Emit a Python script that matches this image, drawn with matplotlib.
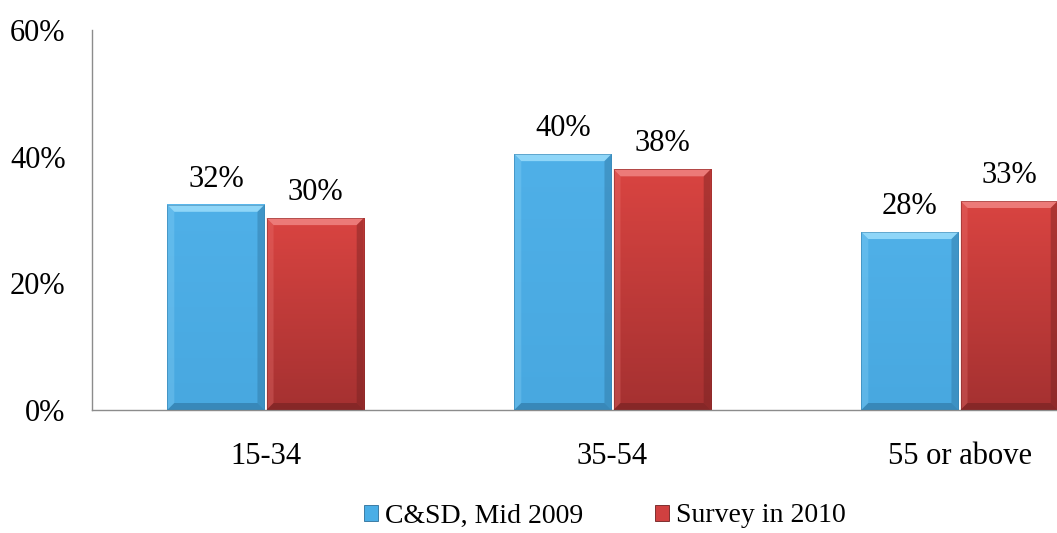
import numpy as np
import matplotlib
matplotlib.use("Agg")
import matplotlib.pyplot as plt
from matplotlib.colors import LinearSegmentedColormap
from matplotlib.patches import Polygon, Patch

# data
groups = ["15-34", "35-54", "55 or above"]
series = ["C&SD, Mid 2009", "Survey in 2010"]
csd_2009 = [0.324, 0.404, 0.281]
survey_2010 = [0.303, 0.380, 0.330]

plt.rcParams['font.family'] = ['Liberation Serif', 'DejaVu Serif']

W, H = 1057, 533
fig = plt.figure(figsize=(W / 100, H / 100), dpi=100)
# the plot area runs past the right edge of the picture, as in the original
ax = fig.add_axes([92 / W, 123 / H, 1041 / W, 380 / H])

x = np.arange(len(groups))
width = 0.28
offset = 0.143

ax.set_xlim(-0.5, 2.5)
ax.set_ylim(0, 0.6)

blue_cm = LinearSegmentedColormap.from_list("b", ["#4fb0e8", "#48a8e0"])
red_cm = LinearSegmentedColormap.from_list("r", ["#d94441", "#a53131"])
grad = np.linspace(0, 1, 100).reshape(-1, 1)

# bevel sizes in data units (about 7 px)
dx = 7 * 3 / 1041
dy = 7 * 0.6 / 380


def bevel_bar(xc, h, cmap, light, dark):
    x0, x1 = xc - width / 2, xc + width / 2
    ax.imshow(grad, extent=[x0, x1, 0, h], origin='upper', aspect='auto',
              cmap=cmap, zorder=2, interpolation='bilinear')
    top = Polygon([(x0, h), (x1, h), (x1 - dx, h - dy), (x0 + dx, h - dy)],
                  closed=True, facecolor=light, edgecolor='none', zorder=3)
    left = Polygon([(x0, 0), (x0, h), (x0 + dx, h - dy), (x0 + dx, dy)],
                   closed=True, facecolor=light, alpha=0.3, edgecolor='none', zorder=3)
    right = Polygon([(x1, 0), (x1, h), (x1 - dx, h - dy), (x1 - dx, dy)],
                    closed=True, facecolor=dark, alpha=0.4, edgecolor='none', zorder=3)
    bottom = Polygon([(x0, 0), (x1, 0), (x1 - dx, dy), (x0 + dx, dy)],
                     closed=True, facecolor=dark, alpha=0.55, edgecolor='none', zorder=3)
    for p in (top, left, right, bottom):
        ax.add_patch(p)
    ax.add_patch(plt.Rectangle((x0, 0), width, h, fill=False,
                               edgecolor=dark, linewidth=0.6, alpha=0.5, zorder=4))
    ax.annotate(f"{round(h * 100)}%", (xc, h), xytext=(0, 13),
                textcoords='offset points', ha='center', va='baseline', fontsize=22)


for i in range(len(groups)):
    bevel_bar(x[i] - offset, csd_2009[i], blue_cm, "#8fd6f8", "#2c6f99")
    bevel_bar(x[i] + offset, survey_2010[i], red_cm, "#ec7a78", "#6e1f1f")

ax.set_xlim(-0.5, 2.5)
ax.set_ylim(0, 0.6)
ax.set_yticks([0, 0.2, 0.4, 0.6])
ax.set_yticklabels(["0%", "20%", "40%", "60%"])
ax.set_xticks(x)
ax.set_xticklabels(groups)
ax.tick_params(axis='y', length=0, pad=19, labelsize=22)
ax.tick_params(axis='x', length=0, pad=23, labelsize=22)

for s in ('top', 'right'):
    ax.spines[s].set_visible(False)
for s in ('left', 'bottom'):
    ax.spines[s].set_color('#8c8c8c')
    ax.spines[s].set_linewidth(1.0)

handles = [Patch(facecolor="#4aaee6", edgecolor="#2c6f99", linewidth=0.6),
           Patch(facecolor="#d04040", edgecolor="#6e1f1f", linewidth=0.6)]
fig.legend(handles, series, loc='center', bbox_to_anchor=(605 / W, 1 - 516 / H),
           ncol=2, frameon=False, fontsize=20, handlelength=0.5, handleheight=0.5,
           handletextpad=0.25, columnspacing=2.6)

fig.savefig("out.png", dpi=100)
